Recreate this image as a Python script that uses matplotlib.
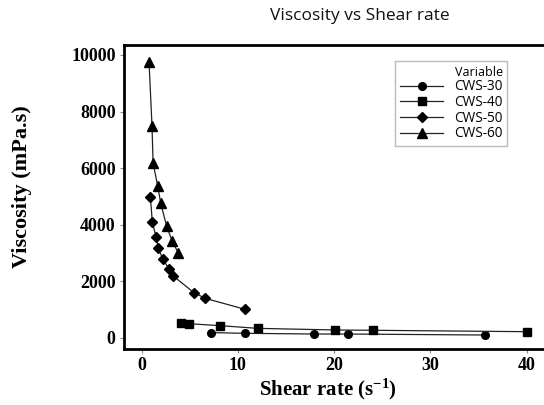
import matplotlib.pyplot as plt

plt.rcParams["mathtext.fontset"] = "custom"
plt.rcParams["mathtext.rm"] = "Liberation Serif:bold"
plt.rcParams["mathtext.bf"] = "Liberation Serif:bold"
plt.rcParams["mathtext.it"] = "Liberation Serif:bold"

# shear rate (1/s) and viscosity (mPa.s) for each solids loading
cws30_rate = [7.2, 10.75, 17.95, 21.4, 35.7]
cws30_visc = [190, 165, 140, 140, 105]

cws40_rate = [4.07, 4.93, 8.18, 12.1, 20.1, 24.07, 40.0]
cws40_visc = [540, 505, 435, 340, 283, 272, 223]

cws50_rate = [0.92, 1.12, 1.5, 1.75, 2.2, 2.89, 3.3, 5.45, 6.63, 10.78]
cws50_visc = [4970, 4110, 3580, 3190, 2780, 2430, 2190, 1600, 1400, 1010]

cws60_rate = [0.78, 1.09, 1.2, 1.68, 1.99, 2.6, 3.17, 3.82]
cws60_visc = [9750, 7490, 6180, 5370, 4770, 3960, 3430, 3010]

series = [
    ("CWS-30", cws30_rate, cws30_visc, "o", 5.5),
    ("CWS-40", cws40_rate, cws40_visc, "s", 5.5),
    ("CWS-50", cws50_rate, cws50_visc, "D", 5.5),
    ("CWS-60", cws60_rate, cws60_visc, "^", 6.5),
]

fig = plt.figure(figsize=(5.44, 4.05), dpi=100)
ax = fig.add_axes([124 / 544, 1 - 349 / 405, 472 / 544, 304 / 405])

for name, x, y, m, ms in series:
    ax.plot(x, y, color="#222222", lw=0.9, marker=m, ms=ms,
            mfc="black", mec="black", label=name)

ax.set_xlim(-1.82, 47.2)
ax.set_ylim(-389, 10353)
ax.set_xticks([0, 10, 20, 30, 40])
ax.set_yticks([0, 2000, 4000, 6000, 8000, 10000])

for side in ["left", "bottom", "top"]:
    ax.spines[side].set_linewidth(2)
ax.spines["right"].set_visible(False)
ax.tick_params(direction="out", length=3, width=0.8, color="#888888", pad=3)
for lab in ax.get_xticklabels() + ax.get_yticklabels():
    lab.set_fontfamily("Liberation Serif")
    lab.set_fontweight("bold")
    lab.set_fontsize(13)

ax.set_xlabel("Shear rate (s$^{-1}$)", family="Liberation Serif",
              weight="bold", fontsize=15)
ax.xaxis.set_label_coords((328 - 124) / 472, -(389 - 349) / 304)
ax.set_ylabel("Viscosity (mPa.s)", family="Liberation Serif",
              weight="bold", fontsize=16)
ax.yaxis.set_label_coords(-(124 - 22) / 472, (349 - 187) / 304)
ax.xaxis.label.set_va("center")
ax.yaxis.label.set_va("center")

fig.text(360 / 544, 1 - 16 / 405, "Viscosity vs Shear rate", family="Open Sans",
         fontsize=12.5, ha="center", va="center", color="#111111")

leg = ax.legend(loc="upper left", bbox_to_anchor=(271 / 472, 1 - 16 / 304),
                title="Variable", title_fontsize=9,
                prop={"family": "Open Sans", "size": 9.8},
                frameon=True, fancybox=False, handlelength=3.2,
                handletextpad=0.8, labelspacing=0.05, borderpad=0.35,
                borderaxespad=0)
leg.get_frame().set_edgecolor("#aaaaaa")
leg.get_frame().set_linewidth(1)
leg._legend_box.align = "right"
leg.get_title().set_fontfamily("Open Sans")

fig.savefig("out.png", dpi=100)
